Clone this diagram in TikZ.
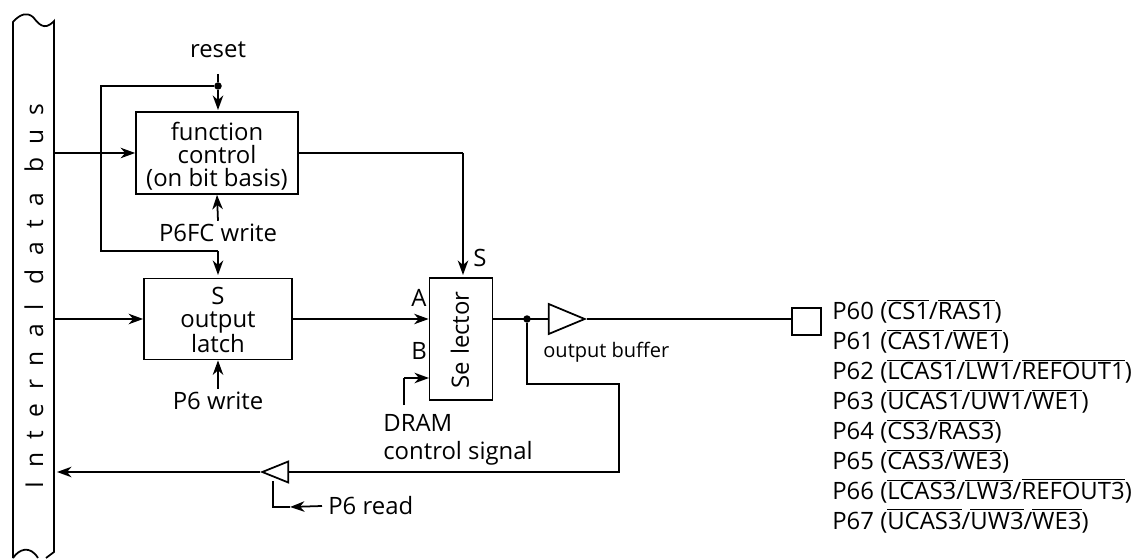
\documentclass[tikz,border=0pt]{standalone}
\usepackage{fontspec}
\setmainfont{Open Sans}
\newfontfamily\busfont[LetterSpace=55]{Open Sans}
\usetikzlibrary{arrows.meta, positioning, shapes.geometric}
\newcommand{\ovl}[1]{$\overline{\mbox{#1}}$}
\begin{document}
\begin{tikzpicture}[
  x = 0.02cm, y = -0.02cm,
  wire/.style  = {line width=1pt, black},
  arr/.style   = {-{Stealth[length=2.9mm, width=2.1mm, inset=0.9mm]}, line width=1pt, black},
  block/.style = {rectangle, draw, line width=1pt, inner sep=0pt},
  lbl/.style   = {inner sep=0pt, align=center, font=\fontsize{13.6}{13}\selectfont},
  buffer/.style = {isosceles triangle, isosceles triangle stretches, draw, line width=1pt,
                  inner sep=0pt},
  dot/.style   = {circle, fill=black, inner sep=0pt, minimum size=1.5mm},
]
\useasboundingbox (0,0) rectangle (1135,560);
% bus
\draw[wire] (13,558) -- (13,22) .. controls (20,14) and (27,12) .. (33,17)
  .. controls (38,23) and (44,32) .. (54,21) -- (54,552) -- (46,558);
\draw[wire] (13,558) .. controls (19,549) and (30,545) .. (38,558);
\node[rotate=90, inner sep=0pt, font=\busfont\fontsize{14}{14}\selectfont] (bus) at (34,296) {Internal data bus};
\coordinate (busfc) at (54,153);
\coordinate (buslatch) at (54,319);
\coordinate (busread) at (57,472);
% blocks
\node[block, minimum width=3.24cm, minimum height=1.64cm] (fc) at (217,153) {};
\node[lbl] (fctxt) at (217,156) {function\\control\\(on bit basis)};
\node[block, minimum width=2.96cm, minimum height=1.62cm] (latch) at (218,319) {};
\node[lbl] (latchtxt) at (218,320) {S\\output\\latch};
\node[block, minimum width=1.26cm, minimum height=2.44cm] (sel) at (461,339) {};
\node[rotate=90, lbl] (seltxt) at (460,340) {Se\hspace{0.3em}lector};
\node[buffer, minimum width=0.6cm, minimum height=0.72cm, anchor=apex] (obuf) at (587,319) {};
\node[buffer, minimum width=0.42cm, minimum height=0.52cm, shape border rotate=180, anchor=apex] (rbuf) at (260,472) {};
\node[block, minimum width=0.58cm, minimum height=0.54cm] (pad) at (806.5,321.5) {};
% labels
\node[lbl] (reset) at (218,50) {reset};
\node[lbl] (fcw) at (218,233) {P6FC write};
\node[lbl] (pw) at (218,401) {P6 write};
\node[lbl] (s) at (480,258) {S};
\node[lbl] (a) at (419,298) {A};
\node[lbl] (b) at (419,351) {B};
\node[lbl, anchor=west, font=\fontsize{11.4}{11.4}\selectfont] (obl) at (543,352) {output buffer};
\node[lbl, anchor=west, align=left, font=\fontsize{13.6}{16}\selectfont] (dram) at (383,440) {DRAM\\control signal};
\node[lbl, anchor=west] (prd) at (328,506) {P6 read};
\node[lbl, anchor=north west, align=left, font=\fontsize{13.6}{17.07}\selectfont] (pins) at (832,298.5) {%
P60 (\ovl{CS1}/\ovl{RAS1})\\
P61 (\ovl{CAS1}/\ovl{WE1})\\
P62 (\ovl{LCAS1}/\ovl{LW1}/\ovl{REFOUT1})\\
P63 (\ovl{UCAS1}/\ovl{UW1}/\ovl{WE1})\\
P64 (\ovl{CS3}/\ovl{RAS3})\\
P65 (\ovl{CAS3}/\ovl{WE3})\\
P66 (\ovl{LCAS3}/\ovl{LW3}/\ovl{REFOUT3})\\
P67 (\ovl{UCAS3}/\ovl{UW3}/\ovl{WE3})};
% junctions
\node[dot] (jr) at (218,86) {};
\node[dot] (jo) at (527,319) {};
\coordinate (rtop) at (218,74);
\coordinate (fctop) at (218,110);
\coordinate (latchtop) at (218,275);
\coordinate (ltop) at (218,251);
\coordinate (sin) at (463,153);
\coordinate (sintop) at (463,275);
\coordinate (dramtop) at (404,405);
\coordinate (dramup) at (404,378);
\coordinate (selb) at (429,378);
\coordinate (rctl) at (273,481);
\coordinate (rcorner) at (273,507);
\coordinate (rtip) at (290,507);
\coordinate (ofb1) at (527,384);
\coordinate (ofb2) at (619,384);
\coordinate (ofb3) at (619,472);
% connectors
\draw[wire] (rtop) -- (jr);
\draw[arr] (jr) -- (fctop);
\draw[wire] (jr) -- (101,86) |- (ltop);
\draw[arr] (ltop) -- (latchtop);
\draw[arr] (busfc) -- (fc.west);
\draw[arr] (buslatch) -- (latch.west);
\draw[arr] (latch.east) -- (latch.east -| sel.west);
\draw[wire] (fc.east) -- (sin);
\draw[arr] (sin) -- (sintop);
\draw[arr] (fcw.north) ++(0,-3) -- (fc.south);
\draw[arr] (pw.north) ++(0,-3) -- (latch.south);
\draw[wire] (dramtop) -- (dramup);
\draw[arr] (dramup) -- (selb);
\draw[wire] (sel.east |- jo) -- (obuf.west |- jo);
\draw[wire] (obuf.apex) -- (pad.west |- obuf.apex);
\draw[wire] (jo) -- (ofb1) -- (ofb2) -- (ofb3) -- (rbuf.east |- ofb3);
\draw[arr] (rbuf.apex) -- (busread);
\draw[wire] (rctl) -- (rcorner) -- (rtip);
\draw[arr] (prd.west) ++(-6,0) -- (rtip);
\end{tikzpicture}
\end{document}
